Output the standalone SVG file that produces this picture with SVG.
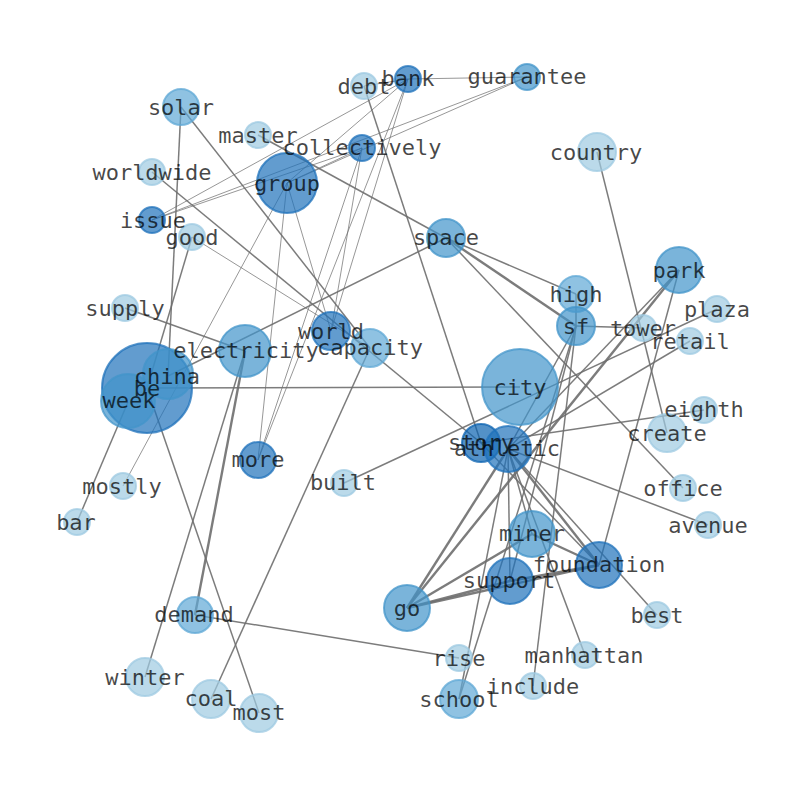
<svg xmlns="http://www.w3.org/2000/svg" width="794" height="790" viewBox="0 0 794 790">
<style>
.e{stroke:#6e6e6e;stroke-opacity:0.9;fill:none}
.t{stroke-width:0.8}
.m{stroke-width:1.5}
.k{stroke-width:2.4}
circle{fill-opacity:0.7;stroke-opacity:0.75;stroke-width:2}
.L{fill:#9ecae1;stroke:#9ecae1}
.M1{fill:#5fa8d5;stroke:#5fa8d5}
.M2{fill:#4294ca;stroke:#4294ca}
.D{fill:#1f72bb;stroke:#1f72bb}
.D2{fill:#0a62b0;stroke:#0a62b0}
text{font-family:"DejaVu Sans Mono","Liberation Mono",monospace;font-size:22px;fill:#000;fill-opacity:0.72;text-anchor:middle;dominant-baseline:central}
</style>
<rect width="794" height="790" fill="#fff"/>
<g id="edges">
<line class="e t" x1="408" y1="79" x2="364" y2="86"/>
<line class="e t" x1="408" y1="79" x2="527" y2="77"/>
<line class="e t" x1="408" y1="79" x2="152" y2="220"/>
<line class="e t" x1="408" y1="79" x2="287" y2="183"/>
<line class="e t" x1="408" y1="79" x2="258" y2="460"/>
<line class="e t" x1="408" y1="79" x2="331" y2="331"/>
<line class="e t" x1="362" y1="148" x2="152" y2="220"/>
<line class="e t" x1="362" y1="148" x2="287" y2="183"/>
<line class="e t" x1="362" y1="148" x2="258" y2="460"/>
<line class="e t" x1="362" y1="148" x2="331" y2="331"/>
<line class="e t" x1="527" y1="77" x2="152" y2="220"/>
<line class="e t" x1="527" y1="77" x2="287" y2="183"/>
<line class="e t" x1="287" y1="183" x2="258" y2="460"/>
<line class="e t" x1="287" y1="183" x2="331" y2="331"/>
<line class="e t" x1="287" y1="183" x2="123" y2="486"/>
<line class="e t" x1="192" y1="237" x2="370" y2="348"/>
<line class="e m" x1="258" y1="135" x2="446" y2="238"/>
<line class="e m" x1="181" y1="107" x2="370" y2="348"/>
<line class="e m" x1="181" y1="107" x2="168" y2="376"/>
<line class="e m" x1="152" y1="172" x2="481" y2="443"/>
<line class="e m" x1="192" y1="237" x2="147" y2="388"/>
<line class="e m" x1="125" y1="308" x2="245" y2="351"/>
<line class="e m" x1="245" y1="351" x2="145" y2="677"/>
<line class="e m" x1="147" y1="388" x2="259" y2="713"/>
<line class="e m" x1="147" y1="388" x2="520" y2="387"/>
<line class="e m" x1="128" y1="402" x2="77" y2="522"/>
<line class="e m" x1="211" y1="699" x2="370" y2="348"/>
<line class="e m" x1="195" y1="615" x2="459" y2="658"/>
<line class="e m" x1="344" y1="483" x2="717" y2="309"/>
<line class="e m" x1="364" y1="86" x2="481" y2="443"/>
<line class="e m" x1="597" y1="152" x2="667" y2="433"/>
<line class="e m" x1="446" y1="238" x2="168" y2="376"/>
<line class="e m" x1="446" y1="238" x2="683" y2="488"/>
<line class="e m" x1="446" y1="238" x2="576" y2="294"/>
<line class="e m" x1="576" y1="326" x2="643" y2="328"/>
<line class="e m" x1="576" y1="326" x2="576" y2="294"/>
<line class="e m" x1="679" y1="270" x2="599" y2="565"/>
<line class="e m" x1="508" y1="449" x2="690" y2="341"/>
<line class="e m" x1="508" y1="449" x2="679" y2="270"/>
<line class="e m" x1="481" y1="443" x2="704" y2="410"/>
<line class="e m" x1="508" y1="449" x2="708" y2="525"/>
<line class="e m" x1="508" y1="449" x2="585" y2="655"/>
<line class="e m" x1="576" y1="326" x2="533" y2="686"/>
<line class="e m" x1="459" y1="699" x2="508" y2="449"/>
<line class="e m" x1="459" y1="699" x2="576" y2="326"/>
<line class="e m" x1="508" y1="449" x2="657" y2="615"/>
<line class="e m" x1="508" y1="449" x2="532" y2="534"/>
<line class="e m" x1="508" y1="449" x2="510" y2="581"/>
<line class="e m" x1="481" y1="443" x2="599" y2="565"/>
<line class="e m" x1="508" y1="449" x2="576" y2="326"/>
<line class="e m" x1="510" y1="581" x2="576" y2="326"/>
<line class="e k" x1="446" y1="238" x2="576" y2="326"/>
<line class="e k" x1="245" y1="351" x2="195" y2="615"/>
<line class="e k" x1="407" y1="608" x2="510" y2="581"/>
<line class="e k" x1="407" y1="608" x2="599" y2="565"/>
<line class="e k" x1="510" y1="581" x2="599" y2="565"/>
<line class="e k" x1="407" y1="608" x2="532" y2="534"/>
<line class="e k" x1="407" y1="608" x2="508" y2="449"/>
<line class="e k" x1="407" y1="608" x2="679" y2="270"/>
<line class="e k" x1="532" y1="534" x2="599" y2="565"/>
<line class="e k" x1="508" y1="449" x2="599" y2="565"/>
</g>
<g id="nodes">
<g id="node-solar"><circle class="M1" cx="181" cy="107" r="18"/></g>
<g id="node-master"><circle class="L" cx="258" cy="135" r="13"/></g>
<g id="node-worldwide"><circle class="L" cx="152" cy="172" r="13"/></g>
<g id="node-group"><circle class="D" cx="287" cy="183" r="30"/></g>
<g id="node-issue"><circle class="D" cx="152" cy="220" r="13"/></g>
<g id="node-good"><circle class="L" cx="192" cy="237" r="13"/></g>
<g id="node-debt"><circle class="L" cx="364" cy="86" r="13"/></g>
<g id="node-bank"><circle class="D" cx="408" cy="79" r="13"/></g>
<g id="node-guarantee"><circle class="M2" cx="527" cy="77" r="13"/></g>
<g id="node-collectively"><circle class="D" cx="362" cy="148" r="13"/></g>
<g id="node-country"><circle class="L" cx="597" cy="152" r="19"/></g>
<g id="node-space"><circle class="M2" cx="446" cy="238" r="19"/></g>
<g id="node-park"><circle class="M2" cx="679" cy="270" r="23"/></g>
<g id="node-high"><circle class="M1" cx="576" cy="294" r="18"/></g>
<g id="node-sf"><circle class="M2" cx="576" cy="326" r="19"/></g>
<g id="node-tower"><circle class="L" cx="643" cy="328" r="13"/></g>
<g id="node-plaza"><circle class="L" cx="717" cy="309" r="13"/></g>
<g id="node-retail"><circle class="L" cx="690" cy="341" r="13"/></g>
<g id="node-supply"><circle class="L" cx="125" cy="308" r="13"/></g>
<g id="node-electricity"><circle class="M2" cx="245" cy="351" r="26"/></g>
<g id="node-world"><circle class="D" cx="331" cy="331" r="19"/></g>
<g id="node-capacity"><circle class="M1" cx="370" cy="348" r="19"/></g>
<g id="node-be"><circle class="D" cx="147" cy="388" r="45"/></g>
<g id="node-china"><circle class="M2" cx="168" cy="374" r="25"/></g>
<g id="node-week"><circle class="M2" cx="128" cy="401" r="27"/></g>
<g id="node-city"><circle class="M2" cx="520" cy="387" r="38"/></g>
<g id="node-more"><circle class="D" cx="258" cy="460" r="18"/></g>
<g id="node-built"><circle class="L" cx="344" cy="483" r="13"/></g>
<g id="node-mostly"><circle class="L" cx="123" cy="486" r="13"/></g>
<g id="node-bar"><circle class="L" cx="77" cy="522" r="13"/></g>
<g id="node-story"><circle class="D2" cx="481" cy="443" r="19"/></g>
<g id="node-athletic"><circle class="D" cx="508" cy="449" r="23"/></g>
<g id="node-eighth"><circle class="L" cx="704" cy="410" r="13"/></g>
<g id="node-create"><circle class="L" cx="667" cy="433" r="19"/></g>
<g id="node-office"><circle class="L" cx="683" cy="488" r="13"/></g>
<g id="node-avenue"><circle class="L" cx="708" cy="525" r="13"/></g>
<g id="node-miner"><circle class="M2" cx="532" cy="534" r="23"/></g>
<g id="node-foundation"><circle class="D" cx="599" cy="565" r="23"/></g>
<g id="node-support"><circle class="D" cx="510" cy="581" r="23"/></g>
<g id="node-go"><circle class="M2" cx="407" cy="608" r="23"/></g>
<g id="node-best"><circle class="L" cx="657" cy="615" r="13"/></g>
<g id="node-demand"><circle class="M1" cx="195" cy="615" r="18"/></g>
<g id="node-rise"><circle class="L" cx="459" cy="658" r="13"/></g>
<g id="node-manhattan"><circle class="L" cx="585" cy="655" r="13"/></g>
<g id="node-include"><circle class="L" cx="533" cy="686" r="13"/></g>
<g id="node-school"><circle class="M1" cx="459" cy="699" r="19"/></g>
<g id="node-winter"><circle class="L" cx="145" cy="677" r="19"/></g>
<g id="node-coal"><circle class="L" cx="211" cy="699" r="19"/></g>
<g id="node-most"><circle class="L" cx="259" cy="713" r="19"/></g>
</g>
<g id="labels">
<text x="181" y="107">solar</text>
<text x="258" y="135">master</text>
<text x="152" y="172">worldwide</text>
<text x="287" y="183">group</text>
<text x="153" y="220">issue</text>
<text x="192" y="237">good</text>
<text x="364" y="86">debt</text>
<text x="408" y="78">bank</text>
<text x="527" y="76">guarantee</text>
<text x="362" y="147">collectively</text>
<text x="596" y="152">country</text>
<text x="446" y="237">space</text>
<text x="679" y="270">park</text>
<text x="576" y="294">high</text>
<text x="576" y="326">sf</text>
<text x="643" y="328">tower</text>
<text x="717" y="309">plaza</text>
<text x="690" y="341">retail</text>
<text x="125" y="308">supply</text>
<text x="246" y="350">electricity</text>
<text x="331" y="331">world</text>
<text x="370" y="347">capacity</text>
<text x="147" y="388">be</text>
<text x="167" y="376">china</text>
<text x="129" y="400">week</text>
<text x="520" y="387">city</text>
<text x="258" y="459">more</text>
<text x="343" y="482">built</text>
<text x="122" y="486">mostly</text>
<text x="76" y="522">bar</text>
<text x="481" y="442">story</text>
<text x="507" y="448">athletic</text>
<text x="704" y="409">eighth</text>
<text x="667" y="433">create</text>
<text x="683" y="488">office</text>
<text x="708" y="525">avenue</text>
<text x="532" y="533">miner</text>
<text x="599" y="564">foundation</text>
<text x="509" y="580">support</text>
<text x="407" y="608">go</text>
<text x="657" y="615">best</text>
<text x="194" y="614">demand</text>
<text x="459" y="658">rise</text>
<text x="584" y="655">manhattan</text>
<text x="533" y="686">include</text>
<text x="459" y="699">school</text>
<text x="145" y="677">winter</text>
<text x="211" y="698">coal</text>
<text x="259" y="712">most</text>
</g>
</svg>
